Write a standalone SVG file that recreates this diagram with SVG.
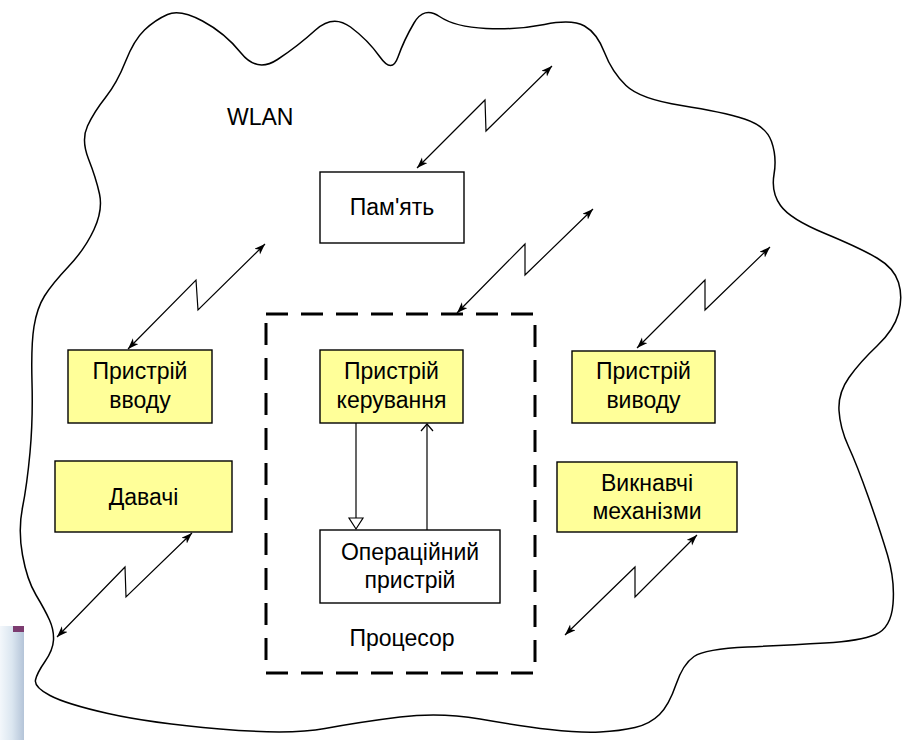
<svg xmlns="http://www.w3.org/2000/svg" width="902" height="740" viewBox="0 0 902 740">
  <style>
    .box { stroke: #000; stroke-width: 1.4; }
    .yellow { fill: #FFFF99; }
    .white { fill: #FFFFFF; }
    .lbl { font-family: "Liberation Sans", Arial, sans-serif; font-size: 23px; fill: #000; text-anchor: middle; }
    .wire { fill: none; stroke: #000; stroke-width: 1.2; stroke-linejoin: miter; }
    .cloud { fill: none; stroke: #000; stroke-width: 1.5; }
  </style>
  <defs>
    <marker id="ah" markerUnits="userSpaceOnUse" markerWidth="14" markerHeight="10" refX="11" refY="4" orient="auto-start-reverse">
      <path d="M0,0 L11,4 L0,8 L3,4 z" fill="#000"/>
    </marker>
    <linearGradient id="blueg" x1="0" y1="0" x2="1" y2="0">
      <stop offset="0" stop-color="#f3f7fb"/>
      <stop offset="0.5" stop-color="#dbe6f0"/>
      <stop offset="1" stop-color="#b4c4d8"/>
    </linearGradient>
  </defs>
  <rect width="902" height="740" fill="#fff"/>

  <g id="corner-deco">
    <rect x="0" y="626" width="24" height="114" fill="url(#blueg)"/>
    <rect x="13" y="626" width="11" height="6" fill="#7c3c70"/>
  </g>

  <g id="wlan-cloud">
    <path class="cloud" d="M167.5,14.5 Q180,9 202.5,21 Q225,33 241,53 Q257,73 277.5,59.5 Q298,46 315.5,30 Q333,14 350.5,27 Q368,40 380,57 Q392,74 398,57 Q404,40 414,23 Q424,6 439.5,16.5 Q455,27 486,28.5 Q517,30 544.5,24.5 Q572,19 584.5,26 Q597,33 604.5,52.5 Q612,72 626,85.5 Q640,99 681.5,105.5 Q723,112 744.5,119 Q766,126 771.5,141.5 Q777,157 774,174.5 Q771,192 780.5,205.5 Q790,219 825,233.5 Q860,248 877,258 Q894,268 898.5,282.5 Q903,297 898.5,313.5 Q894,330 877,346 Q860,362 849,377.5 Q838,393 839,410.5 Q840,428 848.5,446.5 Q857,465 868.5,497.5 Q880,530 887.5,555 Q895,580 893,604 Q891,628 875.5,634.5 Q860,641 825,643 Q790,645 747.5,647 Q705,649 694,656.5 Q683,664 676,684.5 Q669,705 659.5,714.5 Q650,724 635,727.5 Q620,731 600,732 Q580,733 550,729.5 Q520,726 480,719 Q440,712 400,717 Q360,722 325,728.5 Q290,735 220,729 Q150,723 108,713.5 Q66,704 50,695.5 Q34,687 35.5,680 Q37,673 45,661.5 Q53,650 53.5,640 Q54,630 49.5,620 Q45,610 36,595 Q27,580 22.5,555 Q18,530 22.5,507.5 Q27,485 30,452.5 Q33,420 32,382.5 Q31,345 34,326.5 Q37,308 44.5,296 Q52,284 68.5,266.5 Q85,249 94,229.5 Q103,210 99.5,194 Q96,178 88.5,159 Q81,140 87.5,126 Q94,112 105.5,97.5 Q117,83 125.5,61.5 Q134,40 144.5,30 Q155,20 167.5,14.5 Z"/>
    <text class="lbl" x="227" y="125" style="text-anchor:start">WLAN</text>
  </g>

  <g id="processor">
    <rect x="266" y="314" width="269" height="359" fill="none" stroke="#000" stroke-width="3" stroke-dasharray="22 13"/>
    <text class="lbl" x="402" y="646">Процесор</text>
  </g>

  <g id="memory">
    <rect class="box white" x="320" y="172" width="144" height="71"/>
    <text class="lbl" x="392" y="215">Пам'ять</text>
  </g>

  <g id="input-device">
    <rect class="box yellow" x="68" y="350" width="144" height="73"/>
    <text class="lbl" x="140" y="379">Пристрій</text>
    <text class="lbl" x="140" y="408">вводу</text>
  </g>

  <g id="control-unit">
    <rect class="box yellow" x="320" y="350" width="143" height="73"/>
    <text class="lbl" x="391.5" y="379">Пристрій</text>
    <text class="lbl" x="391.5" y="408">керування</text>
  </g>

  <g id="output-device">
    <rect class="box yellow" x="572" y="351" width="143" height="72"/>
    <text class="lbl" x="643.5" y="379">Пристрій</text>
    <text class="lbl" x="643.5" y="408">виводу</text>
  </g>

  <g id="sensors">
    <rect class="box yellow" x="55" y="461" width="177" height="71"/>
    <text class="lbl" x="143.5" y="505">Давачі</text>
  </g>

  <g id="actuators">
    <rect class="box yellow" x="557" y="462" width="180" height="70"/>
    <text class="lbl" x="647" y="491">Викнавчі</text>
    <text class="lbl" x="647" y="519">механізми</text>
  </g>

  <g id="alu">
    <rect class="box white" x="320" y="530" width="180" height="73"/>
    <text class="lbl" x="410" y="560">Операційний</text>
    <text class="lbl" x="410" y="588">пристрій</text>
  </g>

  <g id="connectors">
    <path class="wire" d="M417,168 L485,100 L486,131 L552,66" marker-start="url(#ah)" marker-end="url(#ah)"/>
    <path class="wire" d="M457,313 L525,244 L525,275 L593,209" marker-start="url(#ah)" marker-end="url(#ah)"/>
    <path class="wire" d="M128,349 L196,280 L198,310 L265,244" marker-start="url(#ah)" marker-end="url(#ah)"/>
    <path class="wire" d="M637,348 L705,280 L705,310 L770,247" marker-start="url(#ah)" marker-end="url(#ah)"/>
    <path class="wire" d="M57,637 L125,567 L126,597 L192,533" marker-start="url(#ah)" marker-end="url(#ah)"/>
    <path class="wire" d="M565,635 L635,567 L635,597 L697,535" marker-start="url(#ah)" marker-end="url(#ah)"/>
    <line class="wire" x1="356" y1="423" x2="356" y2="518"/>
    <polygon points="349,518 363,518 356,529" fill="#fff" stroke="#000" stroke-width="1.2"/>
    <line class="wire" x1="427" y1="530" x2="427" y2="424"/>
    <polyline class="wire" points="421,431 427,424 433,431"/>
  </g>
</svg>
